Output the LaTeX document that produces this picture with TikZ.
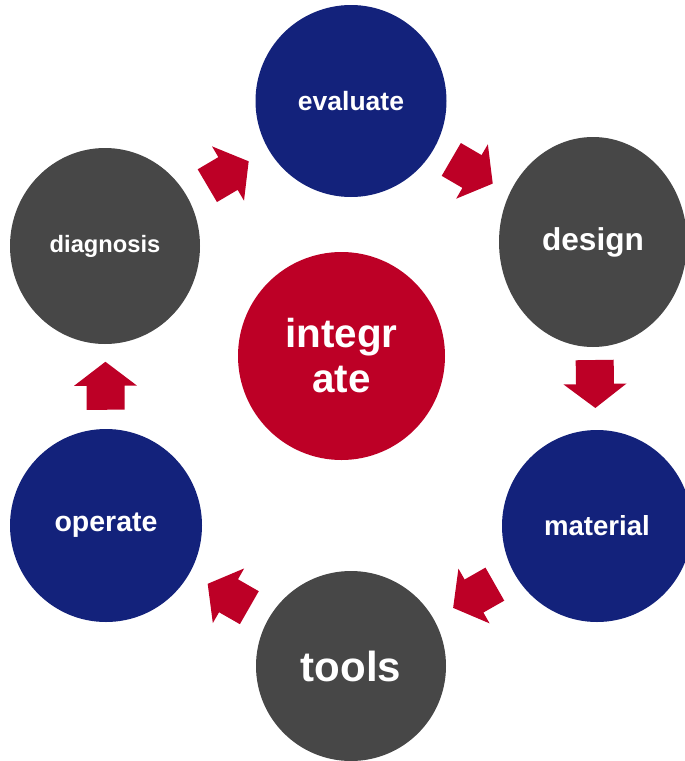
\documentclass[tikz,border=0pt]{standalone}
\usepackage{fontspec}
\setmainfont{Liberation Sans}
\usetikzlibrary{shapes.geometric,calc}
\definecolor{cblue}{HTML}{13227B}
\definecolor{cgray}{HTML}{474747}
\definecolor{cred}{HTML}{BD0026}
\newcommand{\myfs}[1]{\fontsize{#1}{#1}\selectfont}
\tikzset{
  disc/.style={ellipse, inner sep=0pt, text=white, font=\bfseries\myfs{#1}},
  bluedisc/.style={disc=#1, fill=cblue},
  graydisc/.style={disc=#1, fill=cgray},
  blockarrow/.pic={\fill[cred] (-24,-19) -- (0,-19) -- (0,-31.5) -- (24,0) -- (0,31.5) -- (0,19) -- (-24,19) -- cycle;}
}
\begin{document}
\begin{tikzpicture}[x=1pt,y=1pt]
\useasboundingbox (0,0) rectangle (685,-761);
\clip (0,0) rectangle (685,-761);
\node[bluedisc=26.5, minimum width=191pt, minimum height=192pt] (eval) at (351,-101) {evaluate};
\node[graydisc=31.6, minimum width=188pt, minimum height=210pt] (des) at (593,-242) {design};
\node[bluedisc=27.6, minimum width=190pt, minimum height=192pt] (mat) at (597,-526) {material};
\node[graydisc=42, minimum width=190pt, minimum height=190pt] (tools) at (351,-666) {tools};
\node[bluedisc=28.5, minimum width=192pt, minimum height=193pt] (op) at (106,-525.5) {operate};
\node[graydisc=23.7, minimum width=190pt, minimum height=196pt] (diag) at (105,-246) {diagnosis};
\node[ellipse, inner sep=0pt, fill=cred, text=white, align=center,
      font=\bfseries\fontsize{40.4}{45}\selectfont,
      minimum width=207pt, minimum height=208pt] (integ) at (341.5,-356) {integr\\ate};
\foreach \a/\b in {diag/eval, eval/des, des/mat, mat/tools, tools/op, op/diag}
  \path let \p1=($(\b)-(\a)$), \n1={atan2(\y1,\x1)} in ($(\a)!0.5!(\b)$) pic[rotate=\n1] {blockarrow};
\end{tikzpicture}
\end{document}
